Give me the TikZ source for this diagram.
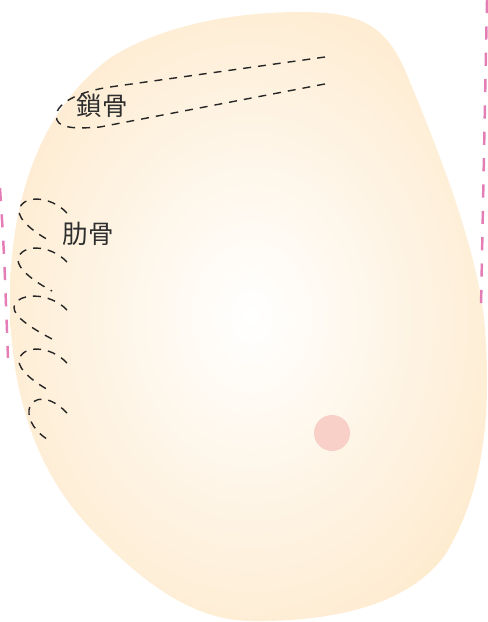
\documentclass[tikz,border=0pt]{standalone}
\usepackage{fontspec}
\newfontfamily\cjk{Noto Sans CJK JP}
\definecolor{skin}{HTML}{FDE2B9}
\definecolor{rosy}{HTML}{F9D0C8}
\definecolor{guidepink}{HTML}{E47DB6}
\definecolor{ink}{HTML}{2E2E2E}
\pgfdeclareradialshading{skinglow}{\pgfpointorigin}{color(0bp)=(white); color(42bp)=(skin); color(50bp)=(skin)}
\tikzset{
  bone/.style={draw=black!85, line width=0.8pt, dash pattern=on 4.5pt off 4pt},
  guide/.style={draw=guidepink, line width=1.4pt, dash pattern=on 7.5pt off 7.5pt},
  tag/.style={text=ink, font=\cjk\fontsize{14.5pt}{17pt}\selectfont, inner sep=0pt},
}

\begin{document}
\begin{tikzpicture}[x=0.02cm, y=-0.02cm]
    \useasboundingbox (0,0) rectangle (487,622);
    \shade[shading=skinglow] (300,12)
        .. controls (360,12) and (385,25) .. (405,70)
        .. controls (430,130) and (480,250) .. (485,330)
        .. controls (492,420) and (482,495) .. (445,555)
        .. controls (405,610) and (320,622) .. (250,621)
        .. controls (190,620) and (140,580) .. (90,528)
        .. controls (40,475) and (10,400) .. (10,300)
        .. controls (10,200) and (40,110) .. (110,58)
        .. controls (170,20) and (250,12) .. cycle;
    \fill[rosy] (332,433) circle (18);
    \draw[guide] (487,0) -- (481,307);
    \draw[guide] (0,188) .. controls (4,250) .. (8,358);
    \draw[bone] (325,57) -- (110,87) .. controls (70,93) and (52,108) .. (57,120)
        .. controls (60,128) and (75,129) .. (100,127) -- (330,83);
    \foreach \y/\x in {198/19, 247/18, 295/14, 348/19, 398/29}
        \draw[bone] (67,\y+15) .. controls (50,\y-3) and (\x+3,\y-3) .. (\x,\y+12)
            .. controls (\x-1,\y+22) and (35,\y+35) .. (52,\y+44);
    \node[tag] (clavicle) at (102,106) {鎖骨};
    \node[tag] (ribs) at (88,234) {肋骨};
\end{tikzpicture}
\end{document}
